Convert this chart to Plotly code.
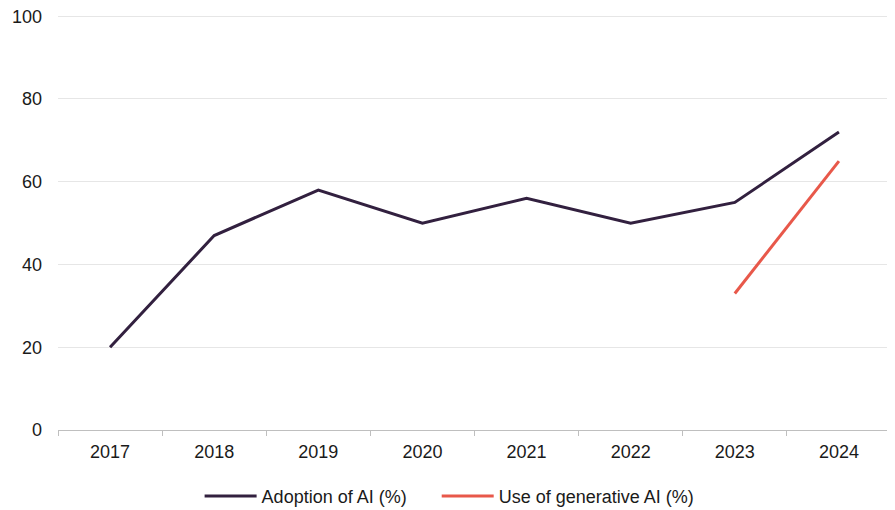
import plotly.graph_objects as go

years = ["2017", "2018", "2019", "2020", "2021", "2022", "2023", "2024"]
adoption_ai = [20, 47, 58, 50, 56, 50, 55, 72]
gen_years = ["2023", "2024"]
generative_ai = [33, 65]
series_names = ["Adoption of AI (%)", "Use of generative AI (%)"]

fig = go.Figure()
fig.add_trace(go.Scatter(x=years, y=adoption_ai, mode="lines",
                         name=series_names[0] + "\u00a0" * 5,
                         line=dict(color="#32203f", width=3)))
fig.add_trace(go.Scatter(x=gen_years, y=generative_ai, mode="lines", name=series_names[1],
                         line=dict(color="#e8584a", width=3)))

fig.update_layout(
    width=887, height=502,
    margin=dict(l=50, r=4, t=7, b=80, autoexpand=False),
    paper_bgcolor="white", plot_bgcolor="white",
    font=dict(family="Liberation Sans, Arial, sans-serif", size=18, color="#1a1a1a"),
    showlegend=True,
    legend=dict(orientation="h", x=0.17, xanchor="left", y=-0.16, yanchor="middle",
                font=dict(size=18), itemwidth=52, tracegroupgap=0),
    xaxis=dict(type="category", categoryorder="array", categoryarray=years,
               tickson="boundaries", ticks="outside", ticklen=5, tickcolor="#bfbfbf",
               showline=True, linecolor="#bfbfbf", linewidth=1, showgrid=False,
               range=[-0.5, 7.5], automargin=False, ticklabelstandoff=5),
    yaxis=dict(range=[0, 100.3], tickvals=[0, 20, 40, 60, 80, 100], showgrid=True,
               gridcolor="#e6e6e6", zeroline=False, showline=False, ticks="",
               ticklabelstandoff=15, automargin=False, ticklabeloverflow="allow"),
)

fig.write_html("out.html")
